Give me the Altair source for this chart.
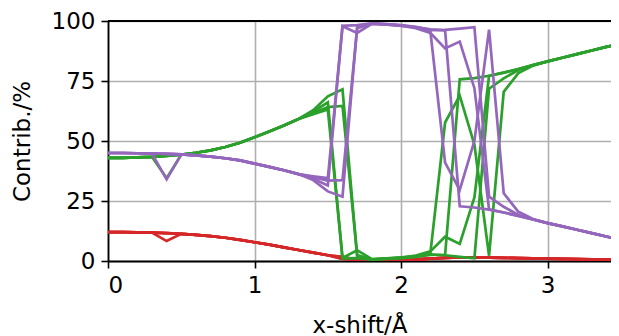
import altair as alt
import pandas as pd

X = [0.0, 0.1, 0.2, 0.3, 0.4, 0.5, 0.6, 0.7, 0.8, 0.9, 1.0, 1.1, 1.2, 1.3, 1.4, 1.5, 1.6, 1.7,
     1.8, 1.9, 2.0, 2.1, 2.2, 2.3, 2.4, 2.5, 2.6, 2.7, 2.8, 2.9, 3.0, 3.1, 3.2, 3.3, 3.4, 3.5]

P_S1 = [45.0, 45.0, 44.9, 44.8, 44.6, 44.4, 44.0, 43.5, 42.8, 41.9, 40.6, 39.2, 37.8, 36.2, 34.3, 31.5,
        98.0, 98.3, 99.0, 98.7, 98.2, 97.3, 95.5, 41.0, 29.6, 50.0, 96.4, 28.2, 20.5, 17.5,
        15.8, 14.4, 13.0, 11.6, 10.2, 8.8]
G_S1 = [43.0, 43.0, 43.2, 43.4, 43.8, 44.3, 45.1, 46.1, 47.5, 49.3, 51.6, 54.0, 56.5, 59.2, 62.2, 66.1,
        1.1, 1.2, 0.6, 0.9, 1.3, 2.0, 3.5, 57.7, 68.9, 48.5, 2.2, 70.5, 78.3, 81.4,
        83.2, 84.7, 86.2, 87.7, 89.2, 90.7]
R_S1 = [12.0, 12.0, 11.9, 11.8, 11.6, 11.3, 10.9, 10.4, 9.7, 8.8, 7.8, 6.8, 5.7, 4.6, 3.5, 2.4,
        0.9, 0.5, 0.4, 0.4, 0.5, 0.7, 1.0, 1.3, 1.5, 1.5, 1.4, 1.3, 1.2, 1.1,
        1.0, 0.9, 0.8, 0.7, 0.6, 0.5]

P_S2 = [45.0, 45.0, 44.9, 44.8, 34.0, 44.4, 44.0, 43.5, 42.8, 41.9, 40.6, 39.2, 37.8, 36.2, 35.3, 34.5,
        97.8, 95.0, 98.8, 98.5, 98.0, 97.5, 96.5, 96.1, 22.8, 22.3, 21.4, 20.2, 18.8, 17.3,
        15.8, 14.4, 13.0, 11.6, 10.2, 8.8]
G_S2 = [43.0, 43.0, 43.2, 43.4, 34.5, 44.3, 45.1, 46.1, 47.5, 49.3, 51.6, 54.0, 56.5, 59.2, 61.2, 63.1,
        1.3, 4.5, 0.8, 1.1, 1.5, 1.8, 2.5, 2.6, 75.7, 76.2, 77.2, 78.5, 80.0, 81.6,
        83.2, 84.7, 86.2, 87.7, 89.2, 90.7]
R_S2 = [12.0, 12.0, 11.9, 11.8, 8.3, 11.3, 10.9, 10.4, 9.7, 8.8, 7.8, 6.8, 5.7, 4.6, 3.5, 2.4,
        0.9, 0.5, 0.4, 0.4, 0.5, 0.7, 1.0, 1.3, 1.5, 1.5, 1.4, 1.3, 1.2, 1.1,
        1.0, 0.9, 0.8, 0.7, 0.6, 0.5]

P_S3 = [45.0, 45.0, 44.9, 44.8, 44.6, 44.4, 44.0, 43.5, 42.8, 41.9, 40.6, 39.2, 37.8, 36.2, 34.9, 33.5,
        33.7, 97.0, 98.9, 98.6, 98.1, 97.0, 95.0, 88.6, 91.4, 72.0, 21.5, 20.2, 18.8, 17.3,
        15.8, 14.4, 13.0, 11.6, 10.2, 8.8]
G_S3 = [43.0, 43.0, 43.2, 43.4, 43.8, 44.3, 45.1, 46.1, 47.5, 49.3, 51.6, 54.0, 56.5, 59.2, 61.6, 64.1,
        64.6, 2.5, 0.7, 1.0, 1.4, 2.3, 4.0, 10.1, 7.1, 26.5, 77.1, 78.5, 80.0, 81.6,
        83.2, 84.7, 86.2, 87.7, 89.2, 90.7]
R_S3 = [12.0, 12.0, 11.9, 11.8, 11.6, 11.3, 10.9, 10.4, 9.7, 8.8, 7.8, 6.8, 5.7, 4.6, 3.5, 2.4,
        1.7, 0.5, 0.4, 0.4, 0.5, 0.7, 1.0, 1.3, 1.5, 1.5, 1.4, 1.3, 1.2, 1.1,
        1.0, 0.9, 0.8, 0.7, 0.6, 0.5]

P_S4 = [45.0, 45.0, 44.9, 44.8, 44.6, 44.4, 44.0, 43.5, 42.8, 41.9, 40.6, 39.2, 37.8, 36.2, 33.7, 29.0,
        26.8, 97.5, 99.0, 98.6, 98.3, 97.6, 96.2, 96.3, 96.8, 97.4, 26.8, 22.6, 19.2, 17.3,
        15.8, 14.4, 13.0, 11.6, 10.2, 8.8]
G_S4 = [43.0, 43.0, 43.2, 43.4, 43.8, 44.3, 45.1, 46.1, 47.5, 49.3, 51.6, 54.0, 56.5, 59.2, 62.8, 68.6,
        71.5, 2.0, 0.6, 1.0, 1.2, 1.7, 2.8, 2.4, 1.7, 1.1, 71.8, 76.1, 79.6, 81.6,
        83.2, 84.7, 86.2, 87.7, 89.2, 90.7]
R_S4 = [12.0, 12.0, 11.9, 11.8, 11.6, 11.3, 10.9, 10.4, 9.7, 8.8, 7.8, 6.8, 5.7, 4.6, 3.5, 2.4,
        1.7, 0.5, 0.4, 0.4, 0.5, 0.7, 1.0, 1.3, 1.5, 1.5, 1.4, 1.3, 1.2, 1.1,
        1.0, 0.9, 0.8, 0.7, 0.6, 0.5]

SERIES = {
    "s1": (P_S1, G_S1, R_S1),
    "s2": (P_S2, G_S2, R_S2),
    "s3": (P_S3, G_S3, R_S3),
    "s4": (P_S4, G_S4, R_S4),
}

X_TICKS = [0, 1, 2, 3]
Y_TICKS = [0, 25, 50, 75, 100]

rows = []
for name, (p, g, r) in SERIES.items():
    for comp, vals in (("purple", p), ("green", g), ("red", r)):
        for x, v in zip(X, vals):
            rows.append({"x": x, "value": v, "series": name, "comp": comp})
df = pd.DataFrame(rows)

# visible part of the x range (the reference's right edge is cut by the image border)
x_enc = alt.X("x:Q", scale=alt.Scale(domain=[0, 3.432], nice=False, zero=False),
              axis=alt.Axis(values=X_TICKS, title="x-shift/Å", format="d",
                            labelPadding=6, titlePadding=17))
y_enc = alt.Y("value:Q", scale=alt.Scale(domain=[0, 100], nice=False),
              axis=alt.Axis(values=Y_TICKS, title="Contrib./%",
                            labelPadding=6, titlePadding=17))

base = alt.Chart(df)
layers = []
for comp, color in (("red", "#d62728"), ("green", "#2ca02c"), ("purple", "#9467bd")):
    layers.append(
        base.transform_filter(alt.datum.comp == comp)
        .mark_line(color=color, strokeWidth=2.7, clip=True)
        .encode(x=x_enc, y=y_enc, detail="series:N")
    )

top_border = alt.Chart(df).mark_rule(color="black", strokeWidth=1.8).encode(y=alt.datum(100))

chart = (
    alt.layer(*layers, top_border)
    .properties(width=503, height=240, autosize="none",
                padding={"left": 100, "top": 13, "right": 0, "bottom": 80})
    .configure_view(stroke=None)
    .configure_axis(grid=True, gridColor="#b0b0b0", gridWidth=1.6,
                    domainColor="black", domainWidth=1.8,
                    tickColor="black", tickWidth=1.6, tickSize=7,
                    labelFont="DejaVu Sans", labelFontSize=23, labelColor="black",
                    titleFont="DejaVu Sans", titleFontSize=23, titleFontWeight="normal",
                    titleColor="black")
)

chart.save("out.html", embed_options={"renderer": "svg", "actions": False})
